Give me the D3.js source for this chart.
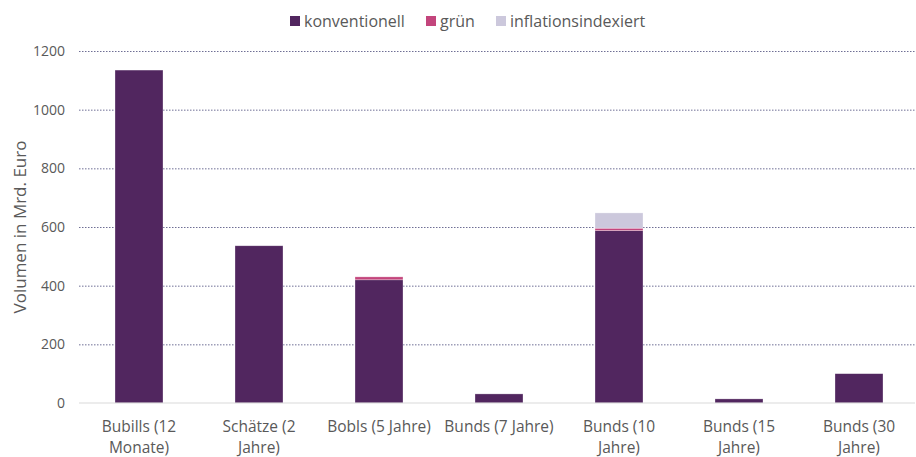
<!DOCTYPE html>
<html lang="de">
<head>
    <meta charset="UTF-8">
    <title>Volumen Bundeswertpapiere</title>
    <script src="https://d3js.org/d3.v7.min.js"></script>
    <style>
        body {
            margin: 0;
            font-family: "Open Sans", sans-serif;
            background: #fff;
        }
        .grid line {
            stroke: #4a4a7a;
            stroke-dasharray: 1.5,1.5;
            stroke-width: 0.8;
        }
        .tick text {
            fill: #595959;
        }
    </style>
</head>
<body>
    <svg id="chart" width="916" height="457"></svg>

    <script>
        // data
        const categories = ["Bubills (12 Monate)", "Schätze (2 Jahre)", "Bobls (5 Jahre)", "Bunds (7 Jahre)",
            "Bunds (10 Jahre)", "Bunds (15 Jahre)", "Bunds (30 Jahre)"];
        const seriesNames = ["konventionell", "grün", "inflationsindexiert"];
        const konventionell = [1135, 536, 420, 31, 588, 14, 100];
        const gruen = [0, 0, 10, 0, 8, 0, 0];
        const inflationsindexiert = [0, 0, 0, 0, 52, 0, 0];
        const yTicks = [0, 200, 400, 600, 800, 1000, 1200];

        const colors = ["#51265f", "#c3457c", "#ccc8dc"];

        let svg = d3.select("#chart");

        let margin = { top: 51, right: 0, bottom: 54, left: 79 },
            width = 840,
            height = +svg.attr("height") - margin.top - margin.bottom;

        let rows = categories.map((c, i) => ({
            cat: c,
            "konventionell": konventionell[i],
            "grün": gruen[i],
            "inflationsindexiert": inflationsindexiert[i]
        }));

        let xScale = d3.scaleBand()
            .domain(categories)
            .range([0, width])
            .paddingInner(0.6)
            .paddingOuter(0.3);

        let yScale = d3.scaleLinear()
            .domain([0, 1200])
            .range([height, 0]);

        let color = d3.scaleOrdinal().domain(seriesNames).range(colors);

        let g = svg.append("g")
            .attr("transform", `translate(${margin.left},${margin.top})`);

        // gridlines
        g.append("g")
            .attr("class", "grid")
            .call(d3.axisLeft(yScale).tickValues(yTicks.slice(1)).tickSize(-836).tickFormat(""))
            .call(a => a.select(".domain").remove());

        // stacked bars
        let series = d3.stack().keys(seriesNames)(rows);

        g.selectAll(".serie")
            .data(series)
            .enter().append("g")
            .attr("fill", d => color(d.key))
            .selectAll("rect")
            .data(d => d.filter(v => v[1] - v[0] > 0))
            .enter().append("rect")
            .attr("x", d => xScale(d.data.cat))
            .attr("y", d => yScale(d[1]))
            .attr("height", d => yScale(d[0]) - yScale(d[1]))
            .attr("width", xScale.bandwidth())
            .attr("stroke", "#fff")
            .attr("stroke-opacity", 0.5)
            .attr("stroke-width", 0.6);

        // baseline
        g.append("line")
            .attr("x1", 0).attr("x2", 836)
            .attr("y1", yScale(0)).attr("y2", yScale(0))
            .attr("stroke", "#d9d9d9")
            .attr("stroke-width", 1);

        // y axis labels
        let yAxis = g.append("g")
            .call(d3.axisLeft(yScale).tickValues(yTicks).tickFormat(d3.format("d")).tickSize(0).tickPadding(14));
        yAxis.select(".domain").remove();
        yAxis.selectAll("text")
            .style("font-family", "Open Sans, sans-serif")
            .style("font-size", "14px");

        // x axis labels, wrapped at the last space when too wide
        let xAxis = g.append("g")
            .attr("transform", `translate(0,${height})`)
            .call(d3.axisBottom(xScale).tickSize(0).tickPadding(18));
        xAxis.select(".domain").remove();
        xAxis.selectAll(".tick text")
            .style("font-family", "Open Sans, sans-serif")
            .style("font-size", "15.5px")
            .each(function(d) {
                let t = d3.select(this);
                if (this.getComputedTextLength() < 112) return;
                let idx = d.lastIndexOf(" ");
                let parts = [d.slice(0, idx), d.slice(idx + 1)];
                t.text(null);
                parts.forEach((p, i) => {
                    t.append("tspan")
                        .attr("x", 0)
                        .attr("dy", i === 0 ? "0.71em" : "21px")
                        .text(p);
                });
            });

        // y axis title
        svg.append("text")
            .attr("transform", `translate(26,${margin.top + height / 2}) rotate(-90)`)
            .attr("text-anchor", "middle")
            .style("font-size", "17px")
            .style("fill", "#595959")
            .text("Volumen in Mrd. Euro");

        // legend
        const legendX = [290, 426, 496];
        let legend = svg.append("g").attr("transform", "translate(0,20)");
        seriesNames.forEach((s, i) => {
            legend.append("rect")
                .attr("x", legendX[i])
                .attr("y", -4)
                .attr("width", 10)
                .attr("height", 10)
                .attr("fill", color(s));
            legend.append("text")
                .attr("x", legendX[i] + 14)
                .attr("y", 1)
                .attr("dy", "0.35em")
                .style("font-size", "16px")
                .style("fill", "#595959")
                .text(s);
        });
    </script>
</body>
</html>
